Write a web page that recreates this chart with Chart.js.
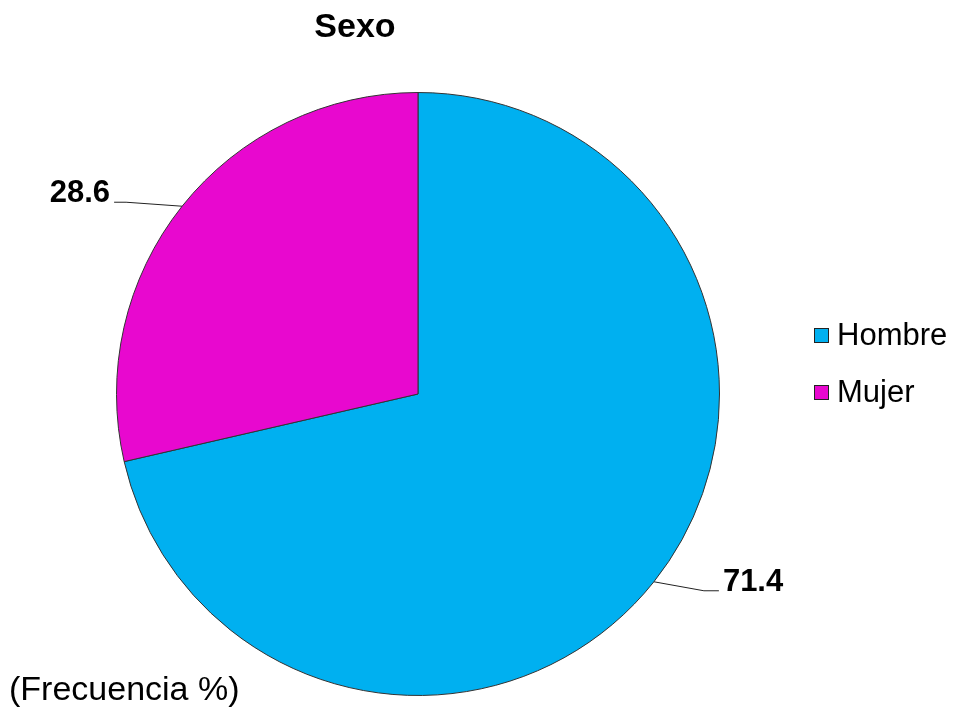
<!DOCTYPE html>
<html>
<head>
<meta charset="utf-8">
<style>
  html, body { margin: 0; padding: 0; background: #ffffff; }
  #wrap { width: 954px; height: 709px; position: relative; }
</style>
<script src="https://cdn.jsdelivr.net/npm/chart.js@4"></script>
</head>
<body>
<div id="wrap"><canvas id="chart" width="954" height="709"></canvas></div>
<script>
// Data
const categories = ['Hombre', 'Mujer'];
const values = [71.4, 28.6];
const colors = ['#00B0F0', '#E808CF'];
const chartTitle = 'Sexo';
const footNote = '(Frecuencia %)';

const FONT = '"Liberation Sans", Arial, sans-serif';

// Value labels with leader lines, title, legend and footnote
const annotations = {
  id: 'annotations',
  afterDraw(chart) {
    const ctx = chart.ctx;
    const meta = chart.getDatasetMeta(0);
    ctx.save();

    // title
    ctx.fillStyle = '#000';
    ctx.font = 'bold 34px ' + FONT;
    ctx.textAlign = 'center';
    ctx.textBaseline = 'alphabetic';
    ctx.fillText(chartTitle, 355, 37);

    // value labels
    meta.data.forEach((arc, i) => {
      const mid = (arc.startAngle + arc.endAngle) / 2;
      const ex = arc.x + Math.cos(mid) * arc.outerRadius;
      const ey = arc.y + Math.sin(mid) * arc.outerRadius;
      const right = Math.cos(mid) >= 0;
      const dir = right ? 1 : -1;
      const elbowX = ex + dir * (right ? 50 : 56);
      const elbowY = ey + (right ? 9 : -4);
      const endX = elbowX + dir * (right ? 15 : 12);

      ctx.strokeStyle = '#222';
      ctx.lineWidth = 1;
      ctx.beginPath();
      ctx.moveTo(ex, ey);
      ctx.lineTo(elbowX, elbowY);
      ctx.lineTo(endX, elbowY);
      ctx.stroke();

      ctx.fillStyle = '#000';
      ctx.font = 'bold 31px ' + FONT;
      ctx.textBaseline = 'alphabetic';
      ctx.textAlign = right ? 'left' : 'right';
      ctx.fillText(values[i].toFixed(1), endX + dir * 4, elbowY);
    });

    // legend
    ctx.font = '31px ' + FONT;
    ctx.textAlign = 'left';
    ctx.textBaseline = 'middle';
    categories.forEach((name, i) => {
      const y = 335 + i * 57;
      ctx.fillStyle = colors[i];
      ctx.fillRect(814, y - 7, 15, 15);
      ctx.strokeStyle = '#222';
      ctx.lineWidth = 1;
      ctx.strokeRect(814.5, y - 6.5, 14, 14);
      ctx.fillStyle = '#000';
      ctx.fillText(name, 837, y + 1);
    });

    // footnote
    ctx.font = '34px ' + FONT;
    ctx.textBaseline = 'alphabetic';
    ctx.fillText(footNote, 9, 700);

    ctx.restore();
  }
};

new Chart(document.getElementById('chart'), {
  type: 'pie',
  data: {
    labels: categories,
    datasets: [{
      data: values,
      backgroundColor: colors,
      borderColor: '#333333',
      borderWidth: 1
    }]
  },
  options: {
    responsive: false,
    animation: false,
    rotation: 0,
    layout: { padding: { left: 116, right: 234, top: 92, bottom: 13 } },
    plugins: {
      legend: { display: false },
      title: { display: false },
      tooltip: { enabled: false }
    }
  },
  plugins: [annotations]
});
</script>
</body>
</html>
